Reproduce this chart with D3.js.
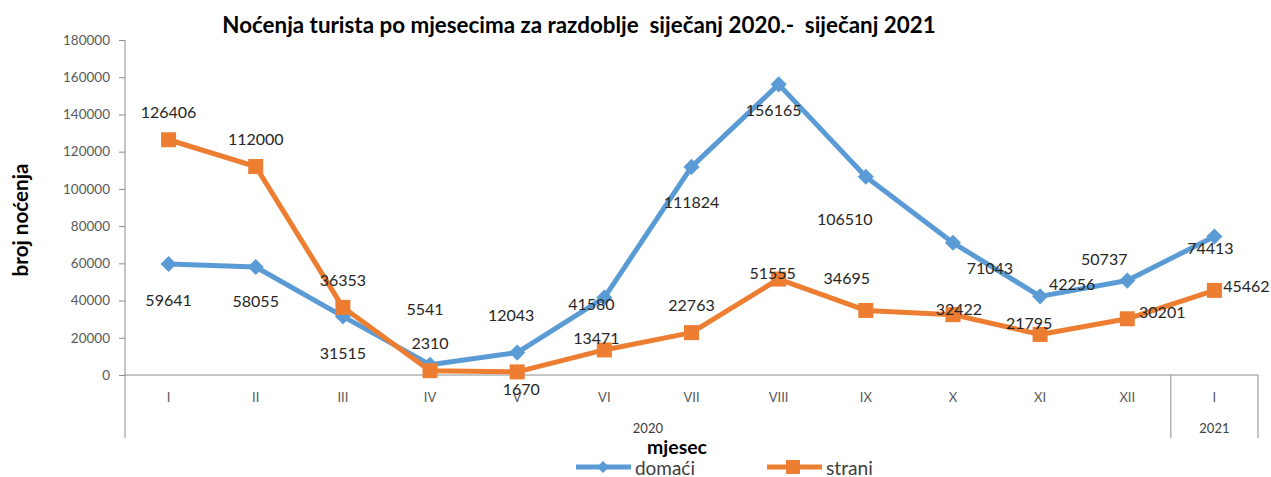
<!DOCTYPE html>
<html>
<head>
<meta charset="utf-8">
<script src="https://cdn.jsdelivr.net/npm/d3@7"></script>
<style>
  html, body { margin: 0; padding: 0; background: #fff; }
  svg { display: block; }
  text { font-family: Lato, "Open Sans", sans-serif; }
</style>
</head>
<body>
<svg id="chart" width="1271" height="477"></svg>
<script>
// ---- data ----
const months = ["I", "II", "III", "IV", "V", "VI", "VII", "VIII", "IX", "X", "XI", "XII", "I"];
const years = ["2020", "2021"];
const yearSpans = [12, 1];
const domaci = [59641, 58055, 31515, 5541, 12043, 41580, 111824, 156165, 106510, 71043, 42256, 50737, 74413];
const strani = [126406, 112000, 36353, 2310, 1670, 13471, 22763, 51555, 34695, 32422, 21795, 30201, 45462];
const yTicks = [0, 20000, 40000, 60000, 80000, 100000, 120000, 140000, 160000, 180000];
const titleText = "Noćenja turista po mjesecima za razdoblje  siječanj 2020.-  siječanj 2021";
const yTitle = "broj noćenja";
const xTitle = "mjesec";
const seriesNames = ["domaći", "strani"];

// label placement offsets (px, relative to the point)
const domLabelOff = [[0,35],[0,34],[0,36],[-5,-56],[-6,-38],[-13,6],[0,35],[-5,25],[-21,42],[37,25],[32,-13],[-23,-22],[-4,11]];
const strLabelOff = [[0,-28],[0,-28],[0,-28],[0,-28],[4,17],[-8,-12],[0,-28],[-6,-7],[-19,-33],[6,-6],[-11,-12],[35,-7],[32,-5]];

// ---- layout ----
const svg = d3.select("#chart");
const plotLeft = 125, plotRight = 1258, plotTop = 40, plotBase = 375, catBottom = 438;
const colors = ["#5B9BD5", "#ED7D31"];
const axisColor = "#8C8C8C";

const idx = months.map((_, i) => i);
const x = d3.scaleBand().domain(idx).range([plotLeft, plotRight]);
const y = d3.scaleLinear().domain([0, 180000]).range([plotBase, plotTop]);
const cx = i => x(i) + x.bandwidth() / 2;

// y axis
const yAxis = d3.axisLeft(y).tickValues(yTicks).tickSize(6).tickPadding(9).tickFormat(d3.format("d"));
const gy = svg.append("g").attr("transform", `translate(${plotLeft},0)`).call(yAxis);
gy.select(".domain").remove();
gy.selectAll(".tick line").attr("stroke", axisColor);
gy.selectAll(".tick text").attr("fill", "#595959").style("font-size", "13.5px").style("font-family", "Lato, sans-serif");
svg.append("line").attr("x1", plotLeft).attr("x2", plotLeft).attr("y1", plotTop).attr("y2", catBottom).attr("stroke", axisColor);

// x axis baseline and category box
svg.append("line").attr("x1", plotLeft).attr("x2", plotRight).attr("y1", plotBase).attr("y2", plotBase).attr("stroke", axisColor);
let acc = 0;
yearSpans.forEach((n, k) => {
  const x0 = x(acc), x1 = x(acc + n - 1) + x.bandwidth();
  svg.append("line").attr("x1", x1).attr("x2", x1).attr("y1", plotBase).attr("y2", catBottom).attr("stroke", axisColor);
  svg.append("text").attr("x", (x0 + x1) / 2).attr("y", 428).attr("text-anchor", "middle")
    .attr("dominant-baseline", "central").attr("fill", "#404040").style("font-size", "13px").text(years[k]);
  acc += n;
});
svg.selectAll(".mlab").data(idx).join("text").attr("class", "mlab")
  .attr("x", d => cx(d)).attr("y", 397).attr("text-anchor", "middle").attr("dominant-baseline", "central")
  .attr("fill", "#595959").style("font-size", "13px").text(d => months[d]);

// lines
const line = d3.line().x((d, i) => cx(i)).y(d => y(d));
[domaci, strani].forEach((s, k) => {
  svg.append("path").datum(s).attr("d", line).attr("fill", "none")
    .attr("stroke", colors[k]).attr("stroke-width", 5).attr("stroke-linejoin", "round");
});
// markers
svg.selectAll(".dm").data(domaci).join("path").attr("class", "dm")
  .attr("d", d3.symbol().type(d3.symbolSquare).size(130))
  .attr("transform", (d, i) => `translate(${cx(i)},${y(d)}) rotate(45)`)
  .attr("fill", colors[0]);
svg.selectAll(".sm").data(strani).join("rect").attr("class", "sm")
  .attr("x", (d, i) => cx(i) - 7.5).attr("y", d => y(d) - 7.5).attr("width", 15).attr("height", 15)
  .attr("fill", colors[1]);

// data labels
svg.selectAll(".dl").data(domaci).join("text").attr("class", "dl")
  .attr("x", (d, i) => cx(i) + domLabelOff[i][0]).attr("y", (d, i) => y(d) + domLabelOff[i][1])
  .attr("text-anchor", "middle").attr("dominant-baseline", "central")
  .attr("fill", "#262626").style("font-size", "16px").text(d => d);
svg.selectAll(".sl").data(strani).join("text").attr("class", "sl")
  .attr("x", (d, i) => cx(i) + strLabelOff[i][0]).attr("y", (d, i) => y(d) + strLabelOff[i][1])
  .attr("text-anchor", "middle").attr("dominant-baseline", "central")
  .attr("fill", "#262626").style("font-size", "16px").text(d => d);

// fit helper
function fit(sel, target) {
  const w = sel.node().getComputedTextLength();
  const fs = parseFloat(sel.style("font-size"));
  sel.style("font-size", (fs * target / w) + "px");
}

// title
const t = svg.append("text").attr("x", 579).attr("y", 24).attr("text-anchor", "middle")
  .attr("dominant-baseline", "central").attr("font-weight", "bold").attr("fill", "#000")
  .style("font-size", "18px").style("white-space", "pre").text(titleText);
fit(t, 714);

// y title
const yt = svg.append("text").attr("transform", "translate(20,220) rotate(-90)").attr("text-anchor", "middle")
  .attr("dominant-baseline", "central").attr("font-weight", "bold").attr("fill", "#000")
  .style("font-size", "17px").text(yTitle);
fit(yt, 113);

// x title
const xt = svg.append("text").attr("x", 677).attr("y", 446).attr("text-anchor", "middle")
  .attr("dominant-baseline", "central").attr("font-weight", "bold").attr("fill", "#000")
  .style("font-size", "17px").text(xTitle);
fit(xt, 60);

// legend
const legX = [576, 767];
const legW = [60, 47];
seriesNames.forEach((name, k) => {
  const g = svg.append("g").attr("transform", `translate(${legX[k]},467)`);
  g.append("line").attr("x1", 0).attr("x2", 55).attr("y1", 0).attr("y2", 0)
    .attr("stroke", colors[k]).attr("stroke-width", 5);
  if (k === 0) {
    g.append("path").attr("d", d3.symbol().type(d3.symbolSquare).size(70)).attr("transform", "translate(27,0) rotate(45)").attr("fill", colors[k]);
  } else {
    g.append("rect").attr("x", 19).attr("y", -7).attr("width", 14).attr("height", 14).attr("fill", colors[k]);
  }
  const lt = g.append("text").attr("x", 59).attr("y", 0).attr("dominant-baseline", "central")
    .attr("fill", "#404040").style("font-size", "16px").text(name);
  fit(lt, legW[k]);
});
</script>
</body>
</html>
